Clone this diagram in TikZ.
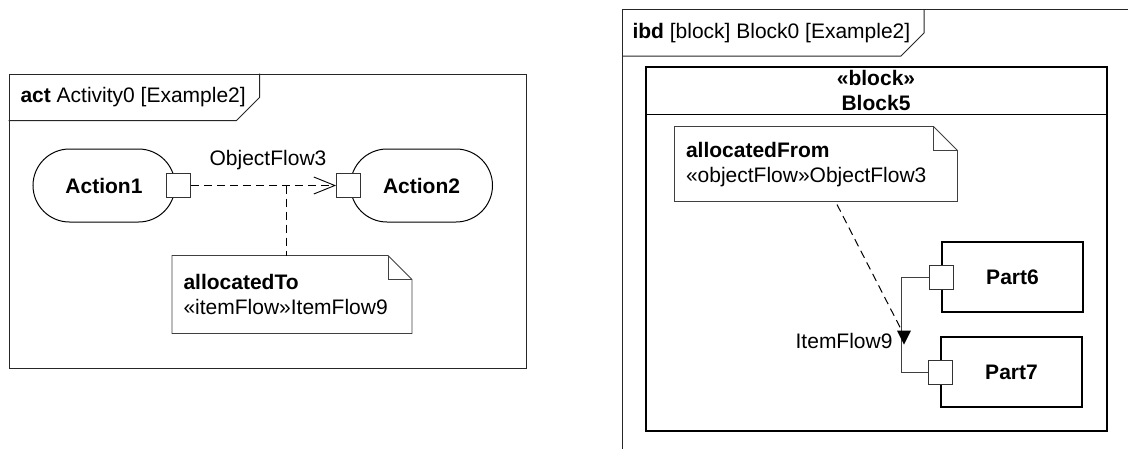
\documentclass[tikz,border=0pt]{standalone}
\usepackage{fontspec}
\setmainfont{Liberation Sans}
\usetikzlibrary{arrows.meta,shapes.geometric}

\begin{document}
\begin{tikzpicture}[
    x=1pt, y=-1pt, line width=1pt,
    font=\fontsize{21}{25}\selectfont,
    frame/.style={draw=black!85, inner sep=0pt},
    action/.style={draw, rounded corners=36.5pt, minimum width=142pt,
                   minimum height=73pt, font=\fontsize{21}{25}\selectfont\bfseries},
    port/.style={draw=black!80, fill=white, minimum size=24pt, inner sep=0pt},
    part/.style={draw, line width=1.4pt, minimum width=141pt,
                 minimum height=70pt, font=\fontsize{21}{25}\selectfont\bfseries},
    notebox/.style={inner xsep=11pt, align=left},
    notedraw/.style={draw=black!75, line width=0.9pt},
    anchorline/.style={draw=black, dash pattern=on 8pt off 5pt},
    flowline/.style={draw=black!75, line width=1pt},
]
\path[use as bounding box] (0,0) rectangle (1128,448);
\clip (0,0) rectangle (1128,448);

% Left frame: activity diagram
\node[frame, minimum width=517pt, minimum height=294pt] (actframe) at (267.5,221) {};
\draw[black!85] ([yshift=-47pt]actframe.north west) -- ++(228,0) -- ++(23,-23) -- ++(0,-24);
\node[anchor=west, inner sep=0pt] (acttitle) at (20,97) {\textbf{act} Activity0 [Example2]};

% Actions with pins
\node[action] (action1) at (104,185.5) {Action1};
\node[action] (action2) at (421.5,185.5) {Action2};
\node[port] (pin1) at ([xshift=3pt]action1.east) {};
\node[port] (pin2) at ([xshift=-1.5pt]action2.west) {};

% Object flow
\draw[anchorline, -{Straight Barb[length=21pt, width=17pt, line width=0.9pt]}]
    (pin1.east) -- (pin2.west) coordinate[pos=0.66] (ofmid);
\node[inner sep=0pt] (ofname) at (268,160) {ObjectFlow3};

% Allocation note
\node[notebox, text width=217pt, minimum height=77pt] (allocto) at (292,294.5)
    {\textbf{allocatedTo}\\«itemFlow»ItemFlow9};
\draw[notedraw] (allocto.north west) -- ([xshift=-24pt]allocto.north east)
    -- ([yshift=-24pt]allocto.north east) -- (allocto.south east)
    -- (allocto.south west) -- cycle;
\draw[notedraw] ([xshift=-24pt]allocto.north east) -- ++(0,24) -- ++(24,0);
\draw[anchorline] (ofmid) -- (ofmid |- allocto.north);

% Right frame: internal block diagram
\node[frame, minimum width=540pt, minimum height=470pt, anchor=north west] (ibdframe) at (622,9) {};
\draw[black!85] ([yshift=-47pt]ibdframe.north west) -- ++(279,0) -- ++(23,-23) -- ++(0,-24);
\node[anchor=west, inner sep=0pt] (ibdtitle) at (632,33) {\textbf{ibd} [block] Block0 [Example2]};

% Block5 with compartment
\node[draw, line width=1.2pt, minimum width=461pt, minimum height=364pt] (block5) at (876.5,249) {};
\draw[line width=1pt] ([yshift=-48pt]block5.north west) -- ([yshift=-48pt]block5.north east);
\node[align=center, inner sep=0pt, font=\fontsize{21}{25}\selectfont\bfseries] (block5title) at (876,90) {«block»\\Block5};

% Allocation note
\node[notebox, text width=260pt, minimum height=74pt] (allocfrom) at (816,164) {};
\draw[notedraw] (allocfrom.north west) -- ([xshift=-24pt]allocfrom.north east)
    -- ([yshift=-24pt]allocfrom.north east) -- (allocfrom.south east)
    -- (allocfrom.south west) -- cycle;
\draw[notedraw] ([xshift=-24pt]allocfrom.north east) -- ++(0,24) -- ++(24,0);
\node[notebox, text width=260pt, anchor=north west] (allocfromtext) at ([yshift=-12pt]allocfrom.north west)
    {\textbf{allocatedFrom}\\«objectFlow»ObjectFlow3};

% Parts with ports
\node[part] (part6) at (1012.5,277) {Part6};
\node[part] (part7) at (1011.5,372) {Part7};
\node[port] (port6) at (part6.west) {};
\node[port] (port7) at (part7.west) {};

% Connector with item flow
\draw[flowline] (port6.west) -- ++(-27,0) |- (port7.west);
\node[isosceles triangle, isosceles triangle stretches, shape border rotate=-90,
      fill=black, minimum width=14pt, minimum height=14pt, inner sep=0pt] (flowmark) at (904,335) {};
\node[anchor=east, inner sep=0pt] (itemname) at (893,341) {ItemFlow9};
\draw[anchorline] ([xshift=21pt,yshift=-3pt]allocfrom.south) -- (flowmark);
\end{tikzpicture}
\end{document}
